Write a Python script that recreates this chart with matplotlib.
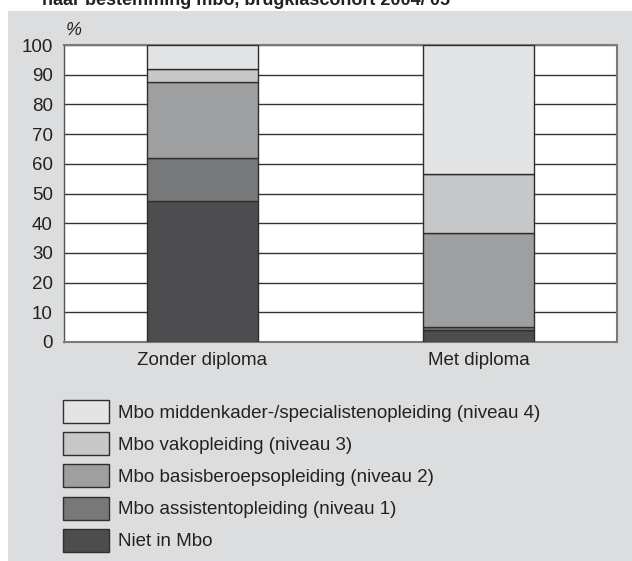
import matplotlib.pyplot as plt
from matplotlib.patches import Rectangle
import numpy as np

plt.rcParams['font.family'] = ['Liberation Sans', 'DejaVu Sans']

categories = ['Zonder diploma', 'Met diploma']
series = ['Niet in Mbo',
          'Mbo assistentopleiding (niveau 1)',
          'Mbo basisberoepsopleiding (niveau 2)',
          'Mbo vakopleiding (niveau 3)',
          'Mbo middenkader-/specialistenopleiding (niveau 4)']
niet_in_mbo = [47.5, 4.0]
niveau1 = [14.5, 1.1]
niveau2 = [25.5, 31.6]
niveau3 = [4.5, 19.9]
niveau4 = [8.0, 43.4]
colors = ['#4d4d4f', '#77787a', '#9e9fa1', '#c7c8ca', '#e3e4e6']

fig = plt.figure(figsize=(6.32, 5.61), dpi=100)
fig.patch.set_facecolor('white')
# grey panel behind the chart
fig.patches.append(Rectangle((8 / 632, 0), 1, 1 - 11 / 561, transform=fig.transFigure,
                             facecolor='#dcdddf', edgecolor='none', zorder=-10))
fig.text(42 / 632, 1 - 5 / 561, "naar bestemming mbo, brugklascohort 2004/'05",
         fontsize=13, fontweight='bold', color='#222222', va='baseline', ha='left')

ax = fig.add_axes([64 / 632, 1 - 342 / 561, (617 - 64) / 632, (342 - 45) / 561])
ax.set_zorder(1)
ax.set_facecolor('white')

x = np.arange(len(categories))
bottom = np.zeros(len(categories))
handles = []
for vals, col, lab in zip([niet_in_mbo, niveau1, niveau2, niveau3, niveau4], colors, series):
    b = ax.bar(x, vals, width=0.4, bottom=bottom, color=col, edgecolor='#2e2e2e',
               linewidth=1, label=lab, zorder=3)
    handles.append(b)
    bottom += np.array(vals)

ax.set_xlim(-0.5, 1.5)
ax.set_ylim(0, 100)
ax.set_yticks(range(0, 101, 10))
ax.yaxis.grid(True, color='#333333', linewidth=1)
ax.set_axisbelow(True)
ax.set_xticks(x)
ax.set_xticklabels(categories)
ax.tick_params(axis='both', length=0, labelsize=13.5, colors='#222222')
ax.tick_params(axis='y', pad=8)
ax.tick_params(axis='x', pad=7)
for s in ax.spines.values():
    s.set_color('#7a7a7a')
    s.set_linewidth(1.5)
ax.spines['left'].set_color('#555555')
ax.spines['left'].set_linewidth(1)

fig.text(66 / 632, 1 - 35 / 561, '%', fontsize=13, style='italic', color='#222222')

fig.legend(handles[::-1], series[::-1], loc='upper left',
           bbox_to_anchor=(63 / 632, 1 - 400 / 561), frameon=False,
           fontsize=13.5, handlelength=2.45, handleheight=1.51,
           handletextpad=0.48, labelspacing=0.49, borderpad=0, borderaxespad=0,
           labelcolor='#222222')

fig.savefig('out.png', dpi=100, facecolor=fig.get_facecolor())
